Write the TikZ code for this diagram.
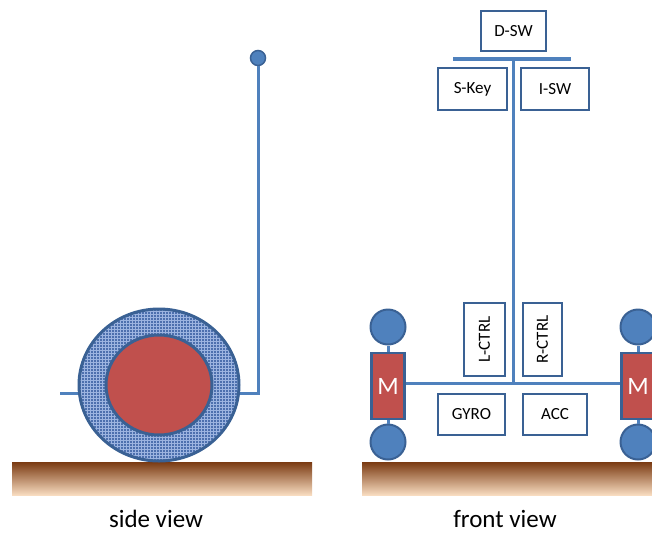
\documentclass[tikz,border=0pt]{standalone}
\usepackage{fontspec}
\setmainfont{Carlito}
\usetikzlibrary{patterns}

\definecolor{lineblue}{HTML}{4F81BD}
\definecolor{edgeblue}{HTML}{3A6194}
\definecolor{motorred}{HTML}{C0504D}
\definecolor{tyreblue}{HTML}{4D70AE}
\definecolor{tyrelight}{HTML}{9CB4E0}
\definecolor{soiltop}{HTML}{7A3A12}
\definecolor{soilmid}{HTML}{BA6A30}
\definecolor{soilbot}{HTML}{F8DCC0}

\tikzset{
  wire/.style={draw=lineblue, line width=3pt},
  part/.style={draw=edgeblue, line width=2.5pt, fill=white, inner sep=0pt,
    font=\fontsize{17}{17}\selectfont},
  motor/.style={draw=edgeblue, line width=2.5pt, fill=motorred, text=white,
    minimum width=33pt, minimum height=66pt, inner sep=0pt,
    font=\fontsize{25}{25}\selectfont},
  ball/.style={circle, draw=edgeblue, line width=2pt, fill=lineblue,
    minimum size=35pt, inner sep=0pt},
  ground/.style={top color=soiltop, middle color=soilmid, bottom color=soilbot},
  caption/.style={anchor=base, inner sep=0pt, font=\fontsize{25}{25}\selectfont}
}

\begin{document}
\begin{tikzpicture}[x=1pt, y=-1pt]
  \useasboundingbox (0,0) rectangle (652,533);
  \clip (0,0) rectangle (652,533);

  % side view
  \shade[ground] (12,462) rectangle (312,495);
  \coordinate (tail) at (60,393);
  \coordinate (hinge) at (258,393);
  \node[circle, draw=edgeblue, line width=1.5pt, fill=lineblue,
    minimum size=15pt, inner sep=0pt] (knob) at (258,58) {};
  \draw[wire] (tail) -- (hinge) -- (knob);
  \draw[edgeblue, line width=3pt, preaction={fill=tyreblue},
    preaction={pattern=grid, pattern color=tyrelight}]
    (159,385) ellipse [x radius=80pt, y radius=76pt];
  \draw[edgeblue, line width=3pt, fill=motorred]
    (159,385) ellipse [x radius=53pt, y radius=50pt];
  \node[caption] (sidecap) at (156,527) {side view};

  % front view
  \shade[ground] (362,462) rectangle (660,495);
  \node[motor] (lm) at (388,386) {M};
  \node[motor] (rm) at (638,386) {M};
  \node[ball] (lt) at (388,327) {};
  \node[ball] (lb) at (388,442) {};
  \node[ball] (rt) at (638,327) {};
  \node[ball] (rb) at (638,442) {};
  \draw[wire] (lt) -- (lm) -- (lb);
  \draw[wire] (rt) -- (rm) -- (rb);

  \coordinate (hub) at (513,383);
  \coordinate (bar) at (513,59);
  \coordinate (barl) at (453,59);
  \coordinate (barr) at (571,59);
  \draw[wire] (lm.east |- hub) -- (rm.west |- hub);
  \draw[wire] (hub) -- (bar);
  \draw[wire, line width=4pt] (barl) -- (barr);

  \node[part, minimum width=65pt, minimum height=40pt] (dsw) at (513.5,31) {D-SW};
  \node[part, minimum width=69pt, minimum height=42pt] (skey) at (472.5,89) {S-Key};
  \node[part, minimum width=68pt, minimum height=42pt] (isw) at (555,89) {I-SW};
  \node[part, rotate=90, minimum width=73pt, minimum height=41pt] (lctrl) at (484.5,339.5) {L-CTRL};
  \node[part, rotate=90, minimum width=73pt, minimum height=39pt] (rctrl) at (542.5,339.5) {R-CTRL};
  \node[part, minimum width=67pt, minimum height=41pt] (gyro) at (471.5,414.5) {GYRO};
  \node[part, minimum width=64pt, minimum height=41pt] (acc) at (555,414.5) {ACC};
  \node[caption] (frontcap) at (505,527) {front view};
\end{tikzpicture}
\end{document}
